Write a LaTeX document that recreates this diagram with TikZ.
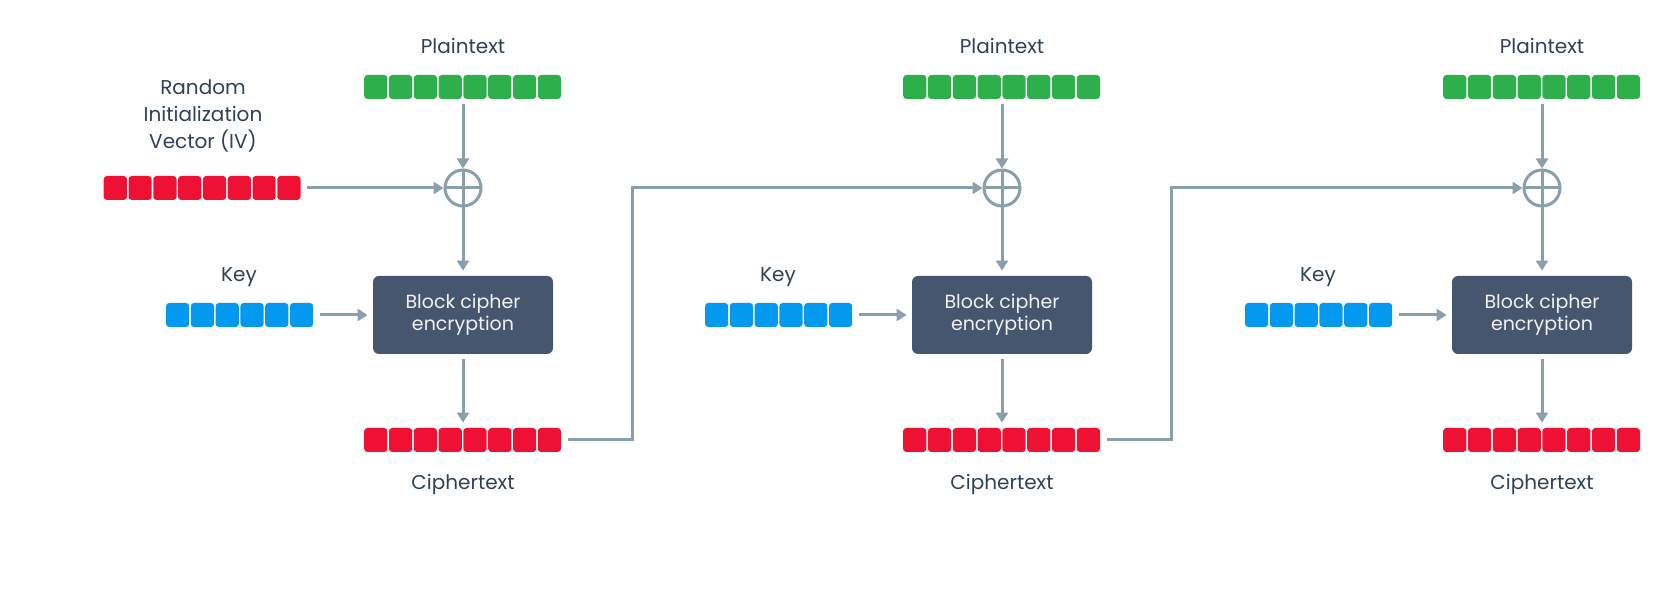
\documentclass[tikz,border=0pt]{standalone}
\usepackage{fontspec}
\setmainfont{Poppins}
\usetikzlibrary{arrows.meta,calc}
\definecolor{lbl}{HTML}{2E4157}
\definecolor{arrowc}{HTML}{8A9FAE}
\definecolor{boxc}{HTML}{45566E}
\definecolor{greenc}{HTML}{2DB04B}
\definecolor{redc}{HTML}{EE1133}
\definecolor{bluec}{HTML}{0399EE}
\newcommand\cellbar[5]{%
  \node[barnode, minimum width=#4*12.4pt] (#1) at (#2,#3) {};
  \foreach \i in {1,...,#4}{%
    \fill[#5, rounded corners=1.6pt] ($(#1.west)+(\i*24.8-24.8+0.8,-12)$) rectangle ++(23.2,24);
  }%
}
\begin{document}
\begin{tikzpicture}[x=0.5pt,y=-0.5pt,
  barnode/.style={inner sep=0pt, minimum height=12pt, draw=none},
  lab/.style={text=lbl, font=\fontsize{10}{13.3}\selectfont, inner sep=0pt, align=center},
  blk/.style={fill=boxc, rounded corners=3pt, minimum width=90pt, minimum height=39pt, inner sep=0pt,
    text=white!92!boxc, font=\fontsize{9.5}{11}\selectfont, align=center},
  xor/.style={circle, draw=arrowc, line width=1.5pt, minimum size=18pt, inner sep=0pt,
    path picture={\draw[arrowc, line width=1.5pt] (path picture bounding box.north) -- (path picture bounding box.south)
      (path picture bounding box.west) -- (path picture bounding box.east);}},
  arr/.style={draw=arrowc, line width=1.5pt, -{Triangle[width=6pt,length=5pt]}},
  gap/.style={shorten <=2.5pt, shorten >=2.5pt}
]
\useasboundingbox (0,0) rectangle (1672,592);

% IV
\node[lab] (ivl) at (203,116) {Random\\Initialization\\Vector (IV)};
\cellbar{iv}{202.5}{188}{8}{redc}

\foreach \c/\cx in {1/463,2/1002,3/1542}{
  \node[lab] (pl\c) at (\cx,46) {Plaintext};
  \cellbar{p\c}{\cx}{87}{8}{greenc}
  \node[xor] (x\c) at (\cx,188) {};
  \node[blk] (b\c) at (\cx,315) {Block cipher\\encryption};
  \cellbar{c\c}{\cx}{440}{8}{redc}
  \node[lab] (cl\c) at (\cx,484) {Ciphertext};
  \node[lab] (kl\c) at (\cx-224,277) {Key};
  \cellbar{k\c}{\cx-223}{315}{6}{bluec}
  \draw[arr, shorten <=2.5pt] (p\c) -- (x\c);
  \draw[arr, shorten >=2.5pt] (x\c) -- (b\c);
  \draw[arr, gap] (b\c) -- (c\c);
  \draw[arr, gap] (k\c) -- (b\c);
}

\draw[arr, shorten <=2.5pt] (iv) -- (x1);

\coordinate (j1) at (632,188);
\coordinate (j2) at (1171,188);
\draw[arr, shorten <=2.5pt] (c1.east) -- (c1.east -| j1) -- (j1) -- (x2.west);
\draw[arr, shorten <=2.5pt] (c2.east) -- (c2.east -| j2) -- (j2) -- (x3.west);
\end{tikzpicture}
\end{document}
